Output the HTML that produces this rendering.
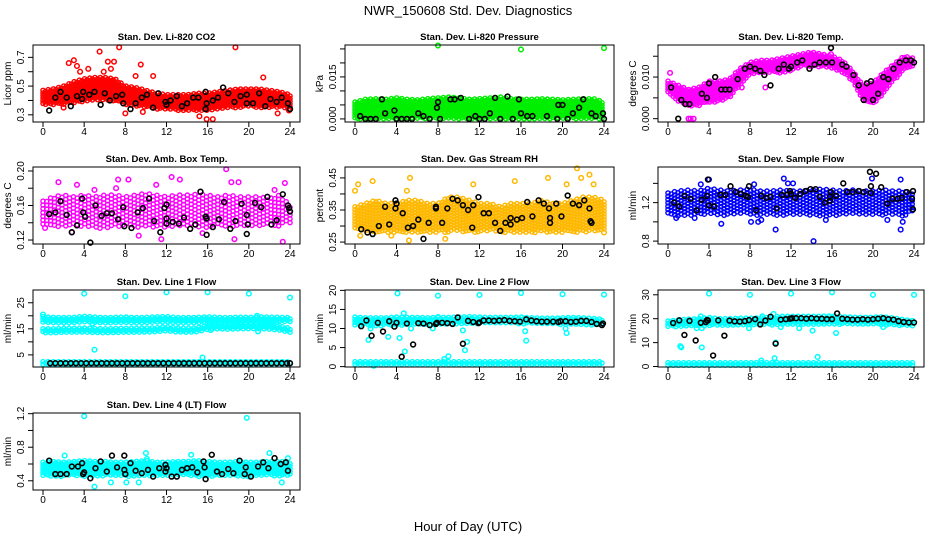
<!DOCTYPE html>
<html><head><meta charset="utf-8"><title>NWR_150608 Std. Dev. Diagnostics</title>
<style>
html,body{margin:0;padding:0;background:#fff;}
svg{display:block;font-family:"Liberation Sans",Arial,sans-serif;}
</style></head>
<body>
<svg id="chart" width="936" height="540" viewBox="0 0 936 540">
<text x="468" y="15" text-anchor="middle" font-size="13">NWR_150608 Std. Dev. Diagnostics</text>
<text x="468" y="531" text-anchor="middle" font-size="13">Hour of Day (UTC)</text>
</svg>
<script>
// ---------- data ----------
const xTicks = [0,4,8,12,16,20,24];
const hours = [0,1,2,3,4,5,6,7,8,9,10,11,12,13,14,15,16,17,18,19,20,21,22,23,24];

// Panel 1: CO2
const co2Lo = [0.37,0.37,0.37,0.38,0.39,0.40,0.40,0.39,0.37,0.36,0.35,0.34,0.34,0.33,0.33,0.33,0.33,0.34,0.35,0.35,0.36,0.35,0.35,0.35,0.34];
const co2Hi = [0.47,0.48,0.50,0.53,0.55,0.56,0.56,0.55,0.50,0.49,0.47,0.45,0.44,0.44,0.44,0.45,0.45,0.46,0.47,0.48,0.48,0.48,0.47,0.46,0.44];
const co2OutX = [2.5,3.0,3.3,5.5,6.3,6.9,7.4,9.5,18.7,4.4,3.6,9.0,10.7,21.4,15.2,15.9,16.5,8.0,9.7,22.8,5.9,6.6,2.0,23.9];
const co2OutY = [0.66,0.68,0.64,0.74,0.67,0.67,0.77,0.65,0.77,0.62,0.60,0.57,0.57,0.56,0.29,0.27,0.27,0.31,0.32,0.31,0.60,0.62,0.35,0.33];
const co2BlkX = [0.6,1.2,1.7,2.3,2.7,3.3,3.8,3.9,4.5,5.0,5.6,6.0,6.5,7.1,7.7,7.8,8.5,9.0,9.6,10.1,10.7,11.2,11.9,12.0,12.4,13.0,13.5,14.0,14.6,15.1,15.8,15.9,15.8,16.5,17.0,17.5,18.0,18.6,19.2,19.8,19.8,20.4,21.0,21.6,22.1,22.7,23.2,23.8,24.0];
const co2BlkY = [0.33,0.42,0.46,0.42,0.36,0.43,0.41,0.46,0.44,0.46,0.37,0.45,0.40,0.43,0.44,0.38,0.34,0.38,0.42,0.44,0.35,0.45,0.39,0.37,0.40,0.43,0.36,0.38,0.42,0.42,0.46,0.38,0.34,0.40,0.42,0.49,0.45,0.39,0.43,0.44,0.38,0.38,0.45,0.36,0.41,0.39,0.42,0.38,0.34];

// Panel 2: Pressure
const presLo = [0,0,0,0,0,0,0,0,0,0,0,0,0,0,0,0,0,0,0,0,0,0,0,0,0];
const presHi = [0.006,0.007,0.0072,0.007,0.0075,0.007,0.0068,0.0072,0.0075,0.0078,0.0075,0.007,0.0072,0.0075,0.0078,0.0072,0.007,0.007,0.0072,0.007,0.0068,0.007,0.0072,0.0072,0.006];
const presOutX = [8,16,24];
const presOutY = [0.0262,0.0248,0.0253];
const presBlkX = [0.5,1,1.5,2,2.6,2.9,3.8,4,4.5,5,5.5,6.1,6.6,7.2,7.9,8,8.2,9.2,9.6,10.2,11,11.6,12,12.5,13,13.5,14,14.7,15.2,15.8,16,16.6,17.1,18.5,19.5,19.6,20,20.5,21,21.6,22,22.8,23.2,23.9,24];
const presBlkY = [0.001,0,0,0,0.007,0.002,0.003,0,0,0,0,0.002,0.001,0,0.004,0.006,0,0.007,0.007,0.0075,0,0.001,0,0,0.002,0.0075,0,0.008,0,0.007,0.002,0.001,0.001,0.001,0,0.005,0.005,0,0.002,0.004,0.007,0.002,0.001,0.002,0];

// Panel 3: Li-820 Temp
const tempLo = [0.006,0.004,0.003,0.003,0.004,0.004,0.005,0.008,0.0105,0.011,0.011,0.011,0.0115,0.0125,0.0125,0.0125,0.012,0.011,0.009,0.004,0.0035,0.006,0.009,0.0115,0.0125];
const tempHi = [0.009,0.008,0.007,0.0075,0.009,0.009,0.0095,0.012,0.0135,0.014,0.014,0.0145,0.015,0.0155,0.016,0.0155,0.015,0.014,0.0115,0.008,0.0085,0.011,0.013,0.015,0.0145];
const tempOutX = [0.2,2,2.2,2.5,7.2,9.5,15.9];
const tempOutY = [0.011,0,0,0,0.0075,0.0075,0.0155];
const tempBlkX = [0.3,1,1.3,1.7,2.1,3.3,3.8,4,4.6,5.2,5.6,6.0,6.8,7.5,8,8.5,9,9.4,10,10.8,11.3,11.8,12,12.6,13.1,13.8,14.3,14.8,15.4,15.9,16,17,17.4,18.1,18.6,19.1,19.4,19.8,20,20.5,21,21.5,22,22.6,23.2,23.7,24];
const tempBlkY = [0.0075,0,0.0045,0.0035,0.0035,0.006,0.005,0.0085,0.010,0.007,0.007,0.007,0.0095,0.012,0.0125,0.012,0.0115,0.0105,0.008,0.012,0.013,0.012,0.0125,0.0135,0.014,0.012,0.013,0.0135,0.0135,0.017,0.0135,0.013,0.0125,0.0105,0.008,0.0045,0.0085,0.009,0.0045,0.006,0.010,0.0095,0.012,0.0135,0.014,0.014,0.0135];

// Panel 4: Amb. Box Temp
const ambLo = [0.135,0.133,0.135,0.135,0.135,0.133,0.134,0.135,0.136,0.135,0.134,0.134,0.135,0.136,0.136,0.135,0.134,0.135,0.135,0.136,0.135,0.135,0.136,0.136,0.14];
const ambHi = [0.165,0.17,0.172,0.17,0.172,0.17,0.172,0.172,0.17,0.172,0.174,0.172,0.17,0.172,0.172,0.173,0.172,0.17,0.172,0.17,0.17,0.17,0.168,0.172,0.16];
const ambOutX = [1.5,7.3,8.3,12.5,13.3,17.8,18.3,19,23.5,23.3,11.5,18.6,2.8,9.3,15.5,5,3.3,7.1,11,0.2,22.5];
const ambOutY = [0.187,0.19,0.19,0.193,0.19,0.202,0.187,0.187,0.186,0.118,0.121,0.121,0.129,0.125,0.128,0.178,0.184,0.18,0.184,0.134,0.178];
const ambBlkX = [0.6,1.2,1.7,2.3,2.8,3.3,3.8,3.9,4.1,4.6,5.1,5.7,6.2,6.7,7.3,7.8,7.9,8.6,9.2,9.7,10.3,10.8,11.4,11.8,12.0,12.0,12.0,12.6,13.2,13.7,14.3,14.8,15.3,15.8,15.9,15.9,16.5,17.1,17.6,18.2,18.7,19.3,19.8,19.8,19.9,20.6,21.2,21.8,22.2,22.7,23.3,23.8,23.9,24];
const ambBlkY = [0.150,0.152,0.165,0.149,0.129,0.137,0.168,0.152,0.147,0.117,0.160,0.148,0.151,0.151,0.144,0.158,0.136,0.134,0.152,0.157,0.168,0.142,0.129,0.157,0.161,0.145,0.139,0.141,0.139,0.146,0.133,0.138,0.176,0.147,0.145,0.126,0.135,0.144,0.164,0.133,0.142,0.162,0.127,0.149,0.138,0.163,0.158,0.170,0.138,0.143,0.173,0.160,0.157,0.153];

// Panel 5: Gas Stream RH
const rhLo = [0.29,0.28,0.28,0.28,0.28,0.28,0.28,0.28,0.28,0.28,0.285,0.28,0.28,0.285,0.28,0.28,0.28,0.28,0.28,0.28,0.28,0.28,0.28,0.285,0.29];
const rhHi = [0.36,0.37,0.38,0.37,0.37,0.38,0.38,0.37,0.37,0.39,0.39,0.38,0.37,0.37,0.36,0.37,0.37,0.37,0.38,0.37,0.37,0.38,0.39,0.39,0.38];
const rhOutX = [0,0.3,1.7,5,5.3,8.7,5.2,11.4,15.4,18.6,20.4,21.4,21.8,22.6,23,0.5,24,3.5];
const rhOutY = [0.41,0.43,0.44,0.41,0.45,0.26,0.255,0.43,0.44,0.45,0.43,0.48,0.45,0.46,0.43,0.27,0.28,0.27];
const rhBlkX = [0.6,1.2,1.7,2.3,2.9,3.3,3.9,3.9,4.0,4.6,5.1,5.6,6.1,6.6,7.1,7.8,7.8,8.4,8.9,9.4,9.9,10.4,10.9,11.3,11.4,11.9,12.4,12.9,13.5,14.0,14.5,15.0,15.0,15.6,16.1,16.6,17.1,17.7,18.2,18.7,18.8,18.8,19.4,19.9,20.5,21.0,21.6,22.1,22.6,22.7,22.8];
const rhBlkY = [0.29,0.28,0.275,0.30,0.36,0.305,0.38,0.355,0.37,0.34,0.295,0.30,0.32,0.26,0.31,0.36,0.355,0.31,0.355,0.385,0.38,0.365,0.35,0.295,0.365,0.39,0.34,0.34,0.31,0.285,0.31,0.325,0.305,0.32,0.325,0.375,0.33,0.38,0.37,0.355,0.325,0.31,0.37,0.33,0.395,0.37,0.365,0.38,0.355,0.315,0.31];

// Panel 6: Sample Flow
const sfLo = [1.08,1.06,1.06,1.07,1.08,1.06,1.07,1.08,1.08,1.06,1.07,1.06,1.08,1.07,1.07,1.06,1.06,1.07,1.08,1.08,1.08,1.07,1.07,1.06,1.12];
const sfHi = [1.30,1.32,1.33,1.32,1.35,1.33,1.32,1.33,1.34,1.32,1.32,1.33,1.32,1.32,1.33,1.34,1.33,1.32,1.33,1.32,1.32,1.33,1.32,1.32,1.28];
const sfOutX = [4,0.8,2.6,5.2,8.1,8.8,9.1,10.5,11.3,11.7,14.2,22.7,22.9,19.9,22.7,3.2,8.4,12.2,15.4,21.4];
const sfOutY = [1.44,1.04,1.04,0.98,1.0,1.0,1.02,0.92,1.45,1.40,0.80,0.92,1.0,1.45,1.44,1.39,1.39,1.40,1.02,1.02];
const sfBlkX = [0.6,1.1,1.6,2.2,2.8,3.3,3.8,3.9,4.0,4.5,5.1,5.6,6.1,6.6,7.1,7.6,7.8,7.9,8.6,9.1,9.6,10.0,10.6,11.1,11.6,11.9,12.0,12.4,12.9,13.4,13.9,14.4,14.8,15.3,15.8,15.8,15.9,16.4,17.1,17.5,18.0,18.6,19.1,19.7,19.8,19.8,20.3,20.8,21.4,21.9,22.4,22.8,23.3,23.8,23.9,23.9];
const sfBlkY = [1.20,1.16,1.27,1.24,1.12,1.23,1.27,1.44,1.17,1.16,1.28,1.28,1.37,1.31,1.29,1.27,1.26,1.37,1.12,1.27,1.25,1.26,1.14,1.28,1.28,1.32,1.29,1.25,1.29,1.32,1.34,1.34,1.26,1.20,1.26,1.22,1.31,1.27,1.40,1.31,1.31,1.32,1.31,1.52,1.37,1.30,1.50,1.36,1.19,1.24,1.24,1.25,1.31,1.24,1.32,1.13];

// Panel 7: Line 1 Flow
const l1UpLo = [17.4,17.3,17.3,17.4,17.5,17.2,17.3,17.4,17.2,17.3,17.2,17.3,17.4,17.2,17.2,17.3,17.5,17.3,17.3,17.4,17.3,17.4,17.5,17.4,17.5];
const l1UpHi = [19.6,19.4,19.3,19.4,19.8,19.5,19.3,19.4,19.5,19.3,19.4,19.6,19.7,19.3,19.3,19.4,19.6,19.4,19.3,19.5,19.4,19.6,19.5,19.4,19.3];
const l1MidLo = [13.3,13.4,13.5,13.6,13.6,13.4,13.3,13.4,13.5,13.5,13.6,13.7,14.0,13.6,13.4,13.6,14.4,14.6,14.6,14.7,14.8,14.8,14.6,14.3,13.6];
const l1MidHi = [15.0,15.0,15.2,15.2,15.3,15.1,15.0,15.1,15.2,15.2,15.3,15.4,15.8,15.3,15.2,15.4,16.4,16.5,16.4,16.5,16.6,16.6,16.4,16.0,15.2];
const l1BotLo = [1.0,1.0,1.0,1.0,1.0,1.0,1.0,1.0,1.0,1.0,1.0,1.0,1.0,1.0,1.0,1.0,1.0,1.0,1.0,1.0,1.0,1.0,1.0,1.0,1.0];
const l1BotHi = [2.4,2.4,2.4,2.4,2.4,2.4,2.4,2.4,2.4,2.4,2.4,2.4,2.4,2.4,2.4,2.4,2.4,2.4,2.4,2.4,2.4,2.4,2.4,2.4,2.4];
const l1OutX = [4,8,12,16,20,24,5,15.5,0,20.8,20.9,16.3,4.8];
const l1OutY = [28.5,27.5,29,29,28.5,27,7,4,20.5,20,14,14.5,17];
const l1BlkX = [0.7,1.2,1.7,2.2,2.7,3.2,3.7,4.2,4.7,5.2,5.7,6.2,6.7,7.2,7.7,8.2,8.7,9.2,9.7,10.2,10.7,11.2,11.7,12.2,12.7,13.2,13.7,14.2,14.7,15.2,15.7,16.2,16.7,17.2,17.7,18.2,18.7,19.2,19.7,20.2,20.7,21.2,21.7,22.2,22.7,23.2,23.7,24.0];
const l1BlkY = [1.8,1.8,1.8,1.8,1.8,1.8,1.8,1.8,1.8,1.8,1.8,1.8,1.8,1.8,1.8,1.8,1.8,1.8,1.8,1.8,1.8,1.8,1.8,1.8,1.8,1.8,1.8,1.8,1.8,1.8,1.8,1.8,1.8,1.8,1.8,1.8,1.8,1.8,1.8,1.8,1.8,1.8,1.8,1.8,1.8,1.8,1.8,1.8];

// Panel 8: Line 2 Flow
const l2UpLo = [10.8,10.8,10.7,10.8,10.8,10.9,10.9,10.8,10.9,10.9,11.0,11.2,11.3,11.3,11.3,11.3,11.2,11.2,11.1,11.1,11.0,11.0,11.0,10.9,10.8];
const l2UpHi = [13.0,12.8,12.8,12.8,13.0,12.9,12.9,12.8,12.9,12.9,13.0,13.1,13.0,12.9,12.9,12.9,13.0,12.8,12.7,12.7,12.8,12.9,12.8,12.6,12.4];
const l2BotLo = [0.5,0.5,0.5,0.5,0.5,0.5,0.5,0.5,0.5,0.5,0.5,0.5,0.5,0.5,0.5,0.5,0.5,0.5,0.5,0.5,0.5,0.5,0.5,0.5,0.5];
const l2BotHi = [1.3,1.3,1.3,1.3,1.3,1.3,1.3,1.3,1.3,1.3,1.3,1.3,1.3,1.3,1.3,1.3,1.3,1.3,1.3,1.3,1.3,1.3,1.3,1.3,1.3];
const l2OutX = [4.1,8,12,16,20,24,4.7,1.3,1.5,3.2,4.3,4.8,5.4,7.5,8,8.6,9,10.4,10.6,10.8,16.4,16.5,20.4,20.3,1.8];
const l2OutY = [19.2,18.6,18.8,19.3,19,18.9,14,7,10,7.8,7.5,4,10,10,13,2,2.7,9.5,4.3,6.5,9.3,6.8,8.8,10,0.2];
const l2BlkX = [0.6,1.1,1.6,2.2,2.7,3.3,3.8,4.0,4.5,5.0,5.6,6.1,6.6,7.2,7.8,7.9,8.4,8.9,9.4,9.9,10.4,10.9,11.4,11.9,12.0,12.4,12.9,13.4,13.9,14.4,14.9,15.4,15.9,16.5,17.0,17.5,18.0,18.5,19.1,19.6,19.8,20.3,20.8,21.3,21.8,22.3,22.8,23.3,23.8,23.9];
const l2BlkY = [10.6,12.1,8.1,11.5,9.2,11.9,10.5,11.5,2.6,11.3,5.8,11.4,11.3,10.9,11.2,11.5,11.5,11.4,11.2,12.9,6.0,12.0,11.7,11.4,11.6,12.1,12.1,12.0,12.1,12.2,12.0,11.9,11.8,12.4,12.1,11.9,11.8,11.8,11.8,11.7,11.9,11.9,11.7,11.8,12.0,12.0,11.7,11.2,10.9,11.3];

// Panel 9: Line 3 Flow
const l3UpLo = [16.5,16.6,16.8,16.9,17.0,17.0,17.0,17.0,17.1,17.2,17.3,17.5,17.6,17.7,17.7,17.7,17.7,17.6,17.6,17.5,17.5,17.4,17.3,17.0,16.8];
const l3UpHi = [19.0,19.5,19.8,20.0,20.5,20.0,20.0,20.2,20.2,20.3,20.6,21.0,21.0,21.0,21.0,21.0,21.2,20.8,20.6,20.5,20.6,20.8,20.3,19.6,19.2];
const l3BotLo = [0.5,0.5,0.5,0.5,0.5,0.5,0.5,0.5,0.5,0.5,0.5,0.5,0.5,0.5,0.5,0.5,0.5,0.5,0.5,0.5,0.5,0.5,0.5,0.5,0.5];
const l3BotHi = [1.6,1.6,1.6,1.6,1.6,1.6,1.6,1.6,1.6,1.6,1.6,1.6,1.6,1.6,1.6,1.6,1.6,1.6,1.6,1.6,1.6,1.6,1.6,1.6,1.6];
const l3OutX = [4,8,12,16,20,24,1.2,1.3,3.3,2.8,3.2,7.9,9.1,10.4,10.5,11,12.8,14.1,14.6,16.4,21,9.2,10.3,3.3];
const l3OutY = [30.5,30,30.5,31,30,30,8.5,8,8,16,21,16,2.5,3.5,10,16.5,16,15,4,14,16.5,21,22,16];
const l3BlkX = [0.5,1.1,1.6,2.1,2.7,3.2,3.7,3.8,3.9,4.4,4.9,5.5,6.0,6.5,7.0,7.5,7.9,8.5,9.0,9.5,10.0,10.5,11.0,11.5,11.9,12.1,12.5,13.0,13.5,14.0,14.5,15.0,15.5,16.0,16.5,17.0,17.5,18.0,18.5,19.0,19.5,20.0,20.5,21.0,21.5,22.0,22.5,23.0,23.5,24.0];
const l3BlkY = [18.2,19.3,13.2,19.1,10.9,18.3,18.6,19.4,19.3,4.6,19.3,12.9,19.2,18.9,18.8,19.0,19.4,19.8,17.6,19.2,20.8,9.6,19.6,19.8,20.0,20.2,20.2,20.2,20.0,20.2,20.0,20.0,19.8,19.8,22.2,20.0,19.8,19.6,19.6,19.8,19.6,19.8,20.0,20.2,19.8,19.6,19.0,18.6,18.4,18.4];

// Panel 10: Line 4 (LT) Flow
const l4Lo = [0.46,0.45,0.45,0.46,0.45,0.45,0.46,0.46,0.45,0.45,0.46,0.46,0.45,0.46,0.46,0.45,0.45,0.46,0.46,0.45,0.45,0.46,0.46,0.45,0.46];
const l4Hi = [0.62,0.63,0.62,0.63,0.64,0.63,0.63,0.62,0.62,0.63,0.64,0.62,0.62,0.63,0.63,0.64,0.63,0.62,0.62,0.63,0.62,0.62,0.63,0.63,0.62];
const l4OutX = [4,19.8,5,2.1,10,14.4,22,8.1,10.1,9.3,6.6,23.2,23.8];
const l4OutY = [1.17,1.15,0.33,0.70,0.73,0.71,0.73,0.38,0.66,0.38,0.38,0.38,0.67];
const l4BlkX = [0.6,1.2,1.7,2.3,2.8,3.4,3.8,3.9,4.0,4.6,5.1,5.6,6.2,6.7,7.2,7.9,7.9,8.0,8.5,9.0,9.6,10.2,10.7,11.3,11.9,11.9,12.0,12.5,13.0,13.5,14.0,14.5,15.0,15.6,15.7,15.8,16.4,16.9,17.4,18.0,18.5,19.1,19.6,19.7,20.2,20.9,21.4,21.9,22.5,23.1,23.6,23.8];
const l4BlkY = [0.64,0.48,0.48,0.48,0.57,0.57,0.61,0.48,0.50,0.43,0.55,0.63,0.51,0.70,0.56,0.70,0.53,0.48,0.61,0.52,0.49,0.53,0.45,0.55,0.59,0.51,0.55,0.45,0.45,0.53,0.55,0.56,0.50,0.63,0.56,0.42,0.71,0.51,0.48,0.54,0.49,0.64,0.48,0.56,0.45,0.57,0.62,0.55,0.67,0.60,0.62,0.52];

// ---------- drawing ----------
const NS = "http://www.w3.org/2000/svg";
const svg = document.getElementById("chart");
const colX0 = [43,355,668], colX24 = [290,604,914];
const rowTop = [45,167,290,413], boxH = 77;

function mk(tag, attrs, parent){
  const e = document.createElementNS(NS, tag);
  for (const k in attrs) e.setAttribute(k, attrs[k]);
  (parent||svg).appendChild(e);
  return e;
}
function interp(arr, h){
  const i = Math.min(23, Math.floor(h));
  const t = h - i;
  return arr[i]*(1-t) + arr[i+1]*t;
}

function panel(cfg){
  const g = mk("g", {});
  
  
  const x0 = colX0[cfg.col], x24 = colX24[cfg.col];
  const L = x0 - 10, R = x24 + 10, T = rowTop[cfg.row], B = T + boxH;
  const xs = h => x0 + (x24 - x0) * h / 24;
  const ys = v => B - (v - cfg.ylim[0]) / (cfg.ylim[1] - cfg.ylim[0]) * boxH;

  const cloud = mk("g", {}, g);
  
  
  cfg.bands.forEach(b => {
    const step = b.step || 2.6;
    let ci = 0;
    for (let px = x0; px <= x24 + 0.01; px += step, ci++){
      const h = (px - x0) / (x24 - x0) * 24;
      const yTop = ys(interp(b.hi, h)), yBot = ys(interp(b.lo, h));
      const off = (ci % 2) ? step/2 : 0;
      for (let py = yTop + off; py <= yBot + 0.01; py += step){
        const c = mk("circle", {cx:px.toFixed(1), cy:py.toFixed(1), r:2.1, fill:"none", stroke:b.color, "stroke-width":1.4}, cloud);
        
        
      }
    }
  });
  cfg.outX.forEach((h, i) => {
    const c = mk("circle", {cx:xs(h), cy:ys(cfg.outY[i]), r:2.3, fill:"none", stroke:cfg.color, "stroke-width":1.5}, g);
    
    
  });
  cfg.blkX.forEach((h, i) => {
    const c = mk("circle", {cx:xs(h), cy:ys(cfg.blkY[i]), r:2.4, fill:"none", stroke:"#000", "stroke-width":1.6}, g);
    
    
  });
  const box = mk("rect", {x:L, y:T, width:R-L, height:boxH, fill:"none", stroke:"#000", "stroke-width":1}, g);
  
  
  const xa = mk("g", {}, g);
  
  
  mk("line", {x1:xs(xTicks[0]), x2:xs(xTicks[xTicks.length-1]), y1:B, y2:B, stroke:"#000"}, xa);
  xTicks.forEach(t => {
    mk("line", {x1:xs(t), x2:xs(t), y1:B, y2:B+5, stroke:"#000"}, xa);
    const tx = mk("text", {x:xs(t), y:B+13, "text-anchor":"middle", "font-size":10}, xa);
    tx.textContent = t;
    
    
  });
  const ya = mk("g", {}, g);
  
  
  mk("line", {x1:L, x2:L, y1:ys(cfg.yticks[0]), y2:ys(cfg.yticks[cfg.yticks.length-1]), stroke:"#000"}, ya);
  cfg.yticks.forEach(t => {
    mk("line", {x1:L-5, x2:L, y1:ys(t), y2:ys(t), stroke:"#000"}, ya);
  });
  cfg.ylabels.forEach((lab, i) => {
    const v = cfg.ylabelVals[i];
    const tx = mk("text", {x:L-9, y:ys(v), "text-anchor":"middle", "font-size":10, transform:`rotate(-90 ${L-9} ${ys(v)})`}, ya);
    tx.textContent = lab;
    
    
  });
  const yt = mk("text", {x:L-22, y:(T+B)/2, "text-anchor":"middle", "font-size":10, transform:`rotate(-90 ${L-22} ${(T+B)/2})`}, g);
  yt.textContent = cfg.ylab;
  
  
  const tt = mk("text", {x:(L+R)/2, y:T-5, "text-anchor":"middle", "font-size":9.5, "font-weight":"bold"}, g);
  tt.textContent = cfg.title;
  
  
}

const RED="#ff0000", GRN="#00ee00", MAG="#ff00ff", ORG="#ffb800", BLU="#0000ff", CYN="#00ffff";

panel({name:"co2", col:0, row:0, title:"Stan. Dev. Li-820 CO2", ylab:"Licor ppm", ylim:[0.25,0.786],
  yticks:[0.3,0.4,0.5,0.6,0.7], ylabels:["0.3","0.5","0.7"], ylabelVals:[0.3,0.5,0.7],
  bands:[{lo:co2Lo, hi:co2Hi, color:RED}], color:RED, outX:co2OutX, outY:co2OutY, blkX:co2BlkX, blkY:co2BlkY});
panel({name:"pressure", col:1, row:0, title:"Stan. Dev. Li-820 Pressure", ylab:"kPa", ylim:[-0.0011,0.0264],
  yticks:[0,0.005,0.010,0.015,0.020,0.025], ylabels:["0.000","0.015"], ylabelVals:[0,0.015],
  bands:[{lo:presLo, hi:presHi, color:GRN}], color:GRN, outX:presOutX, outY:presOutY, blkX:presBlkX, blkY:presBlkY});
panel({name:"li820-temp", col:2, row:0, title:"Stan. Dev. Li-820 Temp.", ylab:"degrees C", ylim:[-0.0008,0.0177],
  yticks:[0,0.005,0.010,0.015], ylabels:["0.000","0.010"], ylabelVals:[0,0.010],
  bands:[{lo:tempLo, hi:tempHi, color:MAG}], color:MAG, outX:tempOutX, outY:tempOutY, blkX:tempBlkX, blkY:tempBlkY});
panel({name:"amb-box-temp", col:0, row:1, title:"Stan. Dev. Amb. Box Temp.", ylab:"degrees C", ylim:[0.1154,0.2046],
  yticks:[0.12,0.14,0.16,0.18,0.20], ylabels:["0.12","0.16","0.20"], ylabelVals:[0.12,0.16,0.20],
  bands:[{lo:ambLo, hi:ambHi, color:MAG, step:3.8}], color:MAG, outX:ambOutX, outY:ambOutY, blkX:ambBlkX, blkY:ambBlkY});
panel({name:"gas-stream-rh", col:1, row:1, title:"Stan. Dev. Gas Stream RH", ylab:"percent", ylim:[0.244,0.484],
  yticks:[0.25,0.30,0.35,0.40,0.45], ylabels:["0.25","0.35","0.45"], ylabelVals:[0.25,0.35,0.45],
  bands:[{lo:rhLo, hi:rhHi, color:ORG, step:3.0}], color:ORG, outX:rhOutX, outY:rhOutY, blkX:rhBlkX, blkY:rhBlkY});
panel({name:"sample-flow", col:2, row:1, title:"Stan. Dev. Sample Flow", ylab:"ml/min", ylim:[0.77,1.57],
  yticks:[0.8,1.0,1.2,1.4], ylabels:["0.8","1.2"], ylabelVals:[0.8,1.2],
  bands:[{lo:sfLo, hi:sfHi, color:BLU, step:3.3}], color:BLU, outX:sfOutX, outY:sfOutY, blkX:sfBlkX, blkY:sfBlkY});
panel({name:"line1-flow", col:0, row:2, title:"Stan. Dev. Line 1 Flow", ylab:"ml/min", ylim:[0.35,29.9],
  yticks:[5,10,15,20,25], ylabels:["5","15","25"], ylabelVals:[5,15,25],
  bands:[{lo:l1UpLo, hi:l1UpHi, color:CYN},{lo:l1MidLo, hi:l1MidHi, color:CYN},{lo:l1BotLo, hi:l1BotHi, color:CYN}],
  color:CYN, outX:l1OutX, outY:l1OutY, blkX:l1BlkX, blkY:l1BlkY});
panel({name:"line2-flow", col:1, row:2, title:"Stan. Dev. Line 2 Flow", ylab:"ml/min", ylim:[-0.1,20.1],
  yticks:[0,5,10,15,20], ylabels:["0","5","10","15","20"], ylabelVals:[0,5,10,15,20],
  bands:[{lo:l2UpLo, hi:l2UpHi, color:CYN},{lo:l2BotLo, hi:l2BotHi, color:CYN}],
  color:CYN, outX:l2OutX, outY:l2OutY, blkX:l2BlkX, blkY:l2BlkY});
panel({name:"line3-flow", col:2, row:2, title:"Stan. Dev. Line 3 Flow", ylab:"ml/min", ylim:[-0.2,32],
  yticks:[0,10,20,30], ylabels:["0","10","20","30"], ylabelVals:[0,10,20,30],
  bands:[{lo:l3UpLo, hi:l3UpHi, color:CYN},{lo:l3BotLo, hi:l3BotHi, color:CYN}],
  color:CYN, outX:l3OutX, outY:l3OutY, blkX:l3BlkX, blkY:l3BlkY});
panel({name:"line4-lt-flow", col:0, row:3, title:"Stan. Dev. Line 4 (LT) Flow", ylab:"ml/min", ylim:[0.29,1.208],
  yticks:[0.4,0.6,0.8,1.0,1.2], ylabels:["0.4","0.8","1.2"], ylabelVals:[0.4,0.8,1.2],
  bands:[{lo:l4Lo, hi:l4Hi, color:CYN}], color:CYN, outX:l4OutX, outY:l4OutY, blkX:l4BlkX, blkY:l4BlkY});
</script>
</body></html>
